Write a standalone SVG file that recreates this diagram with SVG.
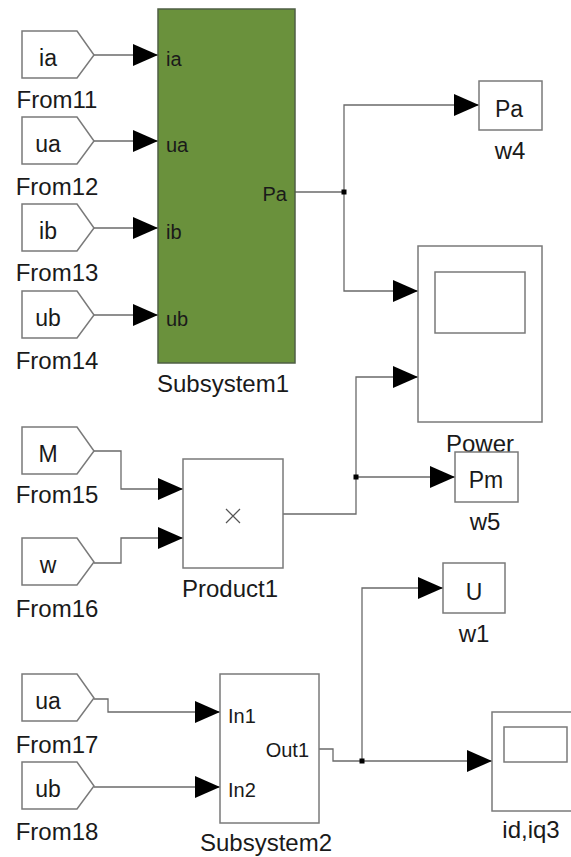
<svg xmlns="http://www.w3.org/2000/svg" xmlns:xlink="http://www.w3.org/1999/xlink" width="571" height="857" viewBox="0 0 571 857">
<style>
.blk{fill:#fff;stroke:#7a7a7a;stroke-width:1.5}
.sub{fill:#6a913c;stroke:#4f5f44;stroke-width:1.5}
.ln{fill:none;stroke:#6a6a6a;stroke-width:1.3}
.arr{fill:none;stroke:#6a6a6a;stroke-width:1.3;marker-end:url(#ah)}
.t{font-family:"Liberation Sans",Arial,sans-serif;fill:#1a1a1a}
.lbl{font-size:24px;text-anchor:middle}
.in{font-size:23px;text-anchor:middle}
.port{font-size:20px}
</style>
<defs>
<marker id="ah" markerUnits="userSpaceOnUse" markerWidth="25" markerHeight="22" refX="25" refY="11" orient="auto">
<path d="M0,0 L25,11 L0,22 Z" fill="#000"/>
</marker>
<path id="from" d="M0,-24 H55 L72,0 L55,23 H0 Z"/>
</defs>

<g id="connectors">
<path class="arr" d="M94,55 H158"/>
<path class="arr" d="M94,141 H158"/>
<path class="arr" d="M94,228 H158"/>
<path class="arr" d="M94,315 H158"/>
<path class="ln" d="M295,192 H344"/>
<path class="arr" d="M344,192 V105 H479"/>
<path class="arr" d="M344,192 V291 H418"/>
<rect x="341.5" y="189.5" width="5" height="5" fill="#000"/>
<path class="arr" d="M94,451 H121 V489 H183"/>
<path class="arr" d="M94,563 H121 V538 H183"/>
<path class="arr" d="M283,514 H356 V377 H418"/>
<path class="arr" d="M356,477 H455"/>
<rect x="353.5" y="474.5" width="5" height="5" fill="#000"/>
<path class="arr" d="M94,699 H108 V712 H220"/>
<path class="arr" d="M94,787 H220"/>
<path class="ln" d="M319,749 H333 V761 H362"/>
<path class="arr" d="M362,761 V588 H443"/>
<path class="arr" d="M362,761 H492"/>
<rect x="359.5" y="758.5" width="5" height="5" fill="#000"/>
</g>

<g id="From11">
<use xlink:href="#from" href="#from" class="blk" transform="translate(22,55)"/>
<text class="t in" x="48" y="66">ia</text>
<text class="t lbl" x="57" y="108">From11</text>
</g>
<g id="From12">
<use xlink:href="#from" href="#from" class="blk" transform="translate(22,141)"/>
<text class="t in" x="48" y="152">ua</text>
<text class="t lbl" x="57" y="195">From12</text>
</g>
<g id="From13">
<use xlink:href="#from" href="#from" class="blk" transform="translate(22,228)"/>
<text class="t in" x="48" y="239">ib</text>
<text class="t lbl" x="57" y="281">From13</text>
</g>
<g id="From14">
<use xlink:href="#from" href="#from" class="blk" transform="translate(22,315)"/>
<text class="t in" x="48" y="326">ub</text>
<text class="t lbl" x="57" y="369">From14</text>
</g>

<g id="Subsystem1">
<rect class="sub" x="158" y="9" width="137" height="354"/>
<text class="t port" x="166" y="66">ia</text>
<text class="t port" x="166" y="152">ua</text>
<text class="t port" x="166" y="239">ib</text>
<text class="t port" x="166" y="326">ub</text>
<text class="t port" x="287" y="201" text-anchor="end">Pa</text>
<text class="t lbl" x="223" y="392">Subsystem1</text>
</g>

<g id="w4">
<rect class="blk" x="479" y="81" width="63" height="49"/>
<text class="t in" x="509" y="117">Pa</text>
<text class="t lbl" x="510" y="159">w4</text>
</g>

<g id="Power">
<rect class="blk" x="418" y="246" width="124" height="176"/>
<rect class="blk" x="435" y="272" width="90" height="61"/>
<text class="t lbl" x="480" y="452">Power</text>
</g>

<g id="From15">
<use xlink:href="#from" href="#from" class="blk" transform="translate(22,451)"/>
<text class="t in" x="48" y="462">M</text>
<text class="t lbl" x="57" y="503">From15</text>
</g>
<g id="From16">
<use xlink:href="#from" href="#from" class="blk" transform="translate(22,562)"/>
<text class="t in" x="48" y="573">w</text>
<text class="t lbl" x="57" y="617">From16</text>
</g>

<g id="Product1">
<rect class="blk" x="183" y="459" width="100" height="109"/>
<path d="M226,509 L240,523 M240,509 L226,523" stroke="#555" stroke-width="1.2" fill="none"/>
<text class="t lbl" x="230" y="597">Product1</text>
</g>

<g id="w5">
<rect class="blk" x="455" y="452" width="63" height="50"/>
<text class="t in" x="486" y="488">Pm</text>
<text class="t lbl" x="485" y="530">w5</text>
</g>

<g id="From17">
<use xlink:href="#from" href="#from" class="blk" transform="translate(22,698)"/>
<text class="t in" x="48" y="709">ua</text>
<text class="t lbl" x="57" y="753">From17</text>
</g>
<g id="From18">
<use xlink:href="#from" href="#from" class="blk" transform="translate(22,786)"/>
<text class="t in" x="48" y="797">ub</text>
<text class="t lbl" x="57" y="840">From18</text>
</g>

<g id="Subsystem2">
<rect class="blk" x="220" y="674" width="99" height="149"/>
<text class="t port" x="228" y="723">In1</text>
<text class="t port" x="228" y="797">In2</text>
<text class="t port" x="309" y="757" text-anchor="end">Out1</text>
<text class="t lbl" x="266" y="851">Subsystem2</text>
</g>

<g id="w1">
<rect class="blk" x="443" y="563" width="62" height="50"/>
<text class="t in" x="474" y="600">U</text>
<text class="t lbl" x="474" y="642">w1</text>
</g>

<g id="id_iq3">
<rect class="blk" x="492" y="712" width="100" height="99"/>
<rect class="blk" x="504" y="727" width="63" height="35"/>
<text class="t lbl" x="531" y="838">id,iq3</text>
</g>
</svg>
